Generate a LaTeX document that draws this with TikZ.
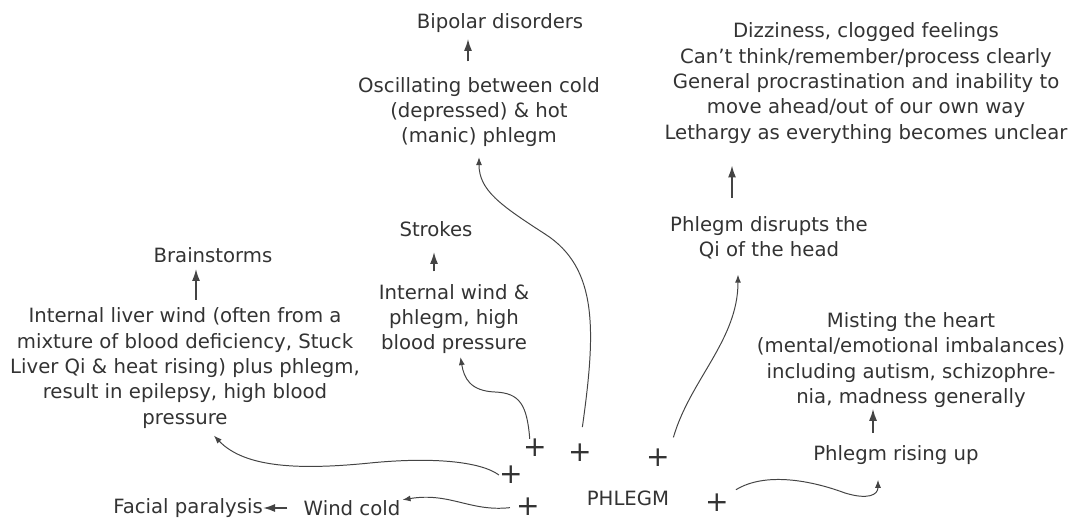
\documentclass[tikz,border=0pt]{standalone}
\usepackage{fontspec}
\setmainfont{DejaVu Sans}
\usetikzlibrary{calc,arrows.meta}
\definecolor{ink}{HTML}{333333}
\definecolor{wire}{HTML}{444444}
\begin{document}
\begin{tikzpicture}[x=0.25cm,y=-0.25cm,
		txt/.style={inner sep=0pt,align=center,text=ink,font=\fontsize{14}{18}\selectfont},
		cross/.style={inner sep=0pt,text=ink,font=\fontsize{20}{20}\selectfont},
		up/.style={wire,line width=1.2pt,-{Latex[length=3mm,width=2mm]}},
		link/.style={wire,line width=0.7pt,-{Latex[length=2mm,width=1.5mm]}}]
			\useasboundingbox (0,0) rectangle (106.8,52.1);
			% effects
			\node[txt] (bipolar) at (50.0,2.3) {Bipolar disorders};
			\node[txt] (oscil) at (47.9,11.2) {Oscillating between cold\\(depressed) \& hot\\(manic) phlegm};
			\node[txt] (strokes) at (43.6,22.9) {Strokes};
			\node[txt] (iwind) at (45.4,31.9) {Internal wind \&\\phlegm, high\\blood pressure};
			\node[txt] (brain) at (21.3,25.5) {Brainstorms};
			\node[txt] (liver) at (18.5,36.8) {Internal liver wind (often from a\\mixture of blood deficiency, Stuck\\Liver Qi \& heat rising) plus phlegm,\\result in epilepsy, high blood\\pressure};
			\node[txt] (dizzy) at (86.6,8.3) {Dizziness, clogged feelings\\Can't think/remember/process clearly\\General procrastination and inability to\\move ahead/out of our own way\\Lethargy as everything becomes unclear};
			\node[txt] (disrupt) at (76.9,23.8) {Phlegm disrupts the\\Qi of the head};
			\node[txt] (misting) at (91.1,36.0) {Misting the heart\\(mental/emotional imbalances)\\including autism, schizophre-\\nia, madness generally};
			\node[txt] (rising) at (89.6,45.5) {Phlegm rising up};
			\node[txt] (phlegm) at (62.8,49.8) {PHLEGM};
			\node[txt] (wind) at (35.2,50.8) {Wind cold};
			\node[txt] (facial) at (18.8,50.8) {Facial paralysis};
			% plus signs
			\node[cross] (p1) at (53.5,44.8) {+};
			\node[cross] (p2) at (58.0,45.3) {+};
			\node[cross] (p3) at (65.8,45.8) {+};
			\node[cross] (p4) at (51.1,47.5) {+};
			\node[cross] (p5) at (52.8,50.7) {+};
			\node[cross] (p6) at (71.7,50.3) {+};
			% short arrows
			\draw[up,shorten <=3.9mm,shorten >=1.5mm] ([xshift=-2.75mm]oscil.north) coordinate (a1) -- (a1 |- bipolar.south);
			\draw[up,shorten <=3.1mm,shorten >=3.75mm] ([xshift=-5mm]iwind.north) coordinate (a2) -- (a2 |- strokes.south);
			\draw[up,shorten <=1.9mm,shorten >=1.5mm] ([xshift=2.75mm]liver.north) coordinate (a3) -- (a3 |- brain.south);
			\draw[up,shorten <=4.6mm,shorten >=5.5mm] ([xshift=-9.25mm]disrupt.north) coordinate (a4) -- (a4 |- dizzy.south);
			\draw[up,shorten <=3.1mm,shorten >=0.25mm] ([xshift=-5.75mm]rising.north) coordinate (a5) -- (a5 |- misting.south);
			\draw[up,shorten <=4mm] (wind.west) -- (wind.west -| facial.east);
			% curved links
			\draw[link,shorten <=4.25mm,shorten >=2.5mm] (p2.north) .. controls (59.6,33.0) and (59.8,26.8) .. (54.5,23.4) .. controls (50.0,20.5) and (47.9,19.0) .. (oscil.south);
			\draw[link,shorten >=0.75mm] (p1.120) .. controls (52.7,40.5) and (52.0,39.3) .. (49.5,39.2) .. controls (47.0,39.1) and (46.4,37.8) .. ([xshift=1.5mm]iwind.south);
			\draw[link,shorten >=2.5mm] (p4.west) .. controls (48.0,46.1) and (43.0,45.7) .. (37.0,46.3) .. controls (30.0,47.0) and (24.5,46.8) .. ([xshift=5.5mm]liver.south);
			\draw[link,shorten <=1.5mm,shorten >=0.5mm] (p5.west) .. controls (47.0,51.2) and (45.0,49.2) .. (wind.north east);
			\draw[link,shorten <=3mm,shorten >=3.75mm] (p3.north east) .. controls (69.0,38.0) and (73.8,34.0) .. ([xshift=-7.75mm]disrupt.south);
			\draw[link,shorten <=2mm,shorten >=3.75mm] (p6.north east) .. controls (76.5,47.2) and (81.0,48.0) .. (84.5,49.3) .. controls (86.8,50.0) and (87.8,49.5) .. ([xshift=-4.5mm]rising.south);
		\end{tikzpicture}
\end{document}
